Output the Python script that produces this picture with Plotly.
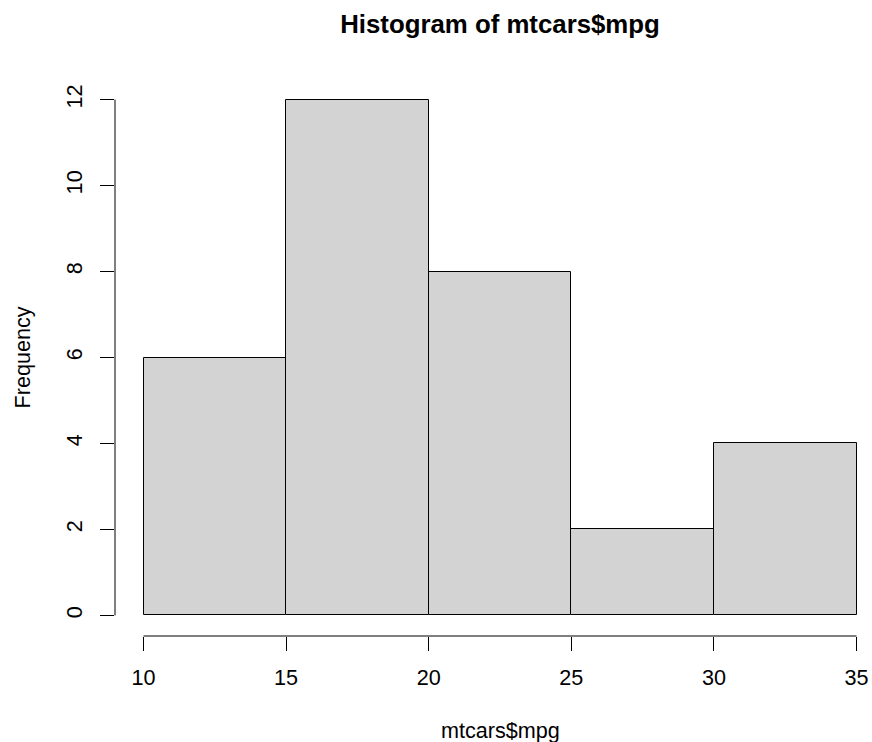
import plotly.graph_objects as go

# Data: histogram of mtcars$mpg (R default breaks)
breaks = [10, 15, 20, 25, 30, 35]
counts = [6, 12, 8, 2, 4]
x_ticks = [10, 15, 20, 25, 30, 35]
y_ticks = [0, 2, 4, 6, 8, 10, 12]
title_text = "Histogram of mtcars$mpg"
xlab = "mtcars$mpg"
ylab = "Frequency"

centers = [(a + b) / 2 for a, b in zip(breaks[:-1], breaks[1:])]
widths = [b - a for a, b in zip(breaks[:-1], breaks[1:])]

FONT = "Liberation Sans, Arial, Helvetica, sans-serif"
W, H = 872, 742
ML, MR, MT, MB = 115, 0, 79, 106

fig = go.Figure()
fig.add_trace(go.Bar(
    x=centers, y=counts, width=widths,
    marker=dict(color="#D3D3D3", line=dict(color="black", width=1)),
    hoverinfo="x+y", showlegend=False,
))

# R extends ranges by 4%
xr_lo = breaks[0] - 0.04 * (breaks[-1] - breaks[0])
px_per_unit = 28.52
xr_hi = xr_lo + (W - ML - MR) / px_per_unit
yr_lo = -0.04 * max(y_ticks)
yr_hi = max(y_ticks) * 1.04

axis_common = dict(
    showgrid=False, zeroline=False, showline=False,
    ticks="outside", ticklen=14, tickwidth=1, tickcolor="black",
    tickfont=dict(family=FONT, size=21.6, color="black"),
)

fig.update_layout(
    width=W, height=H,
    margin=dict(l=ML, r=MR, t=MT, b=MB, pad=0),
    plot_bgcolor="white", paper_bgcolor="white",
    bargap=0,
    xaxis=dict(range=[xr_lo, xr_hi], tickvals=x_ticks,
               ticktext=[str(v) for v in x_ticks], ticklabelstandoff=8,
               **axis_common),
    yaxis=dict(range=[yr_lo, yr_hi], tickvals=y_ticks,
               ticktext=[str(v) for v in y_ticks], tickangle=-90,
               ticklabelstandoff=9, **axis_common),
    title=dict(text="<b>" + title_text + "</b>",
               font=dict(family=FONT, size=25.8, color="black"),
               xref="container", x=500 / W, xanchor="center",
               yref="container", y=1 - 23.5 / H, yanchor="middle"),
    shapes=[
        dict(type="line", xref="x", yref="paper",
             x0=x_ticks[0], x1=x_ticks[-1], y0=0, y1=0,
             line=dict(color="black", width=1)),
        dict(type="line", xref="paper", yref="y",
             x0=0, x1=0, y0=y_ticks[0], y1=y_ticks[-1],
             line=dict(color="black", width=1)),
    ],
    annotations=[
        dict(text=xlab, xref="paper", yref="paper",
             x=(500 - ML) / (W - ML - MR), y=(H - MB - 730.5) / (H - MT - MB),
             xanchor="center", yanchor="middle", showarrow=False,
             font=dict(family=FONT, size=21.6, color="black")),
        dict(text=ylab, xref="paper", yref="paper",
             x=(22 - ML) / (W - ML - MR), y=0.5, textangle=-90,
             xanchor="center", yanchor="middle", showarrow=False,
             font=dict(family=FONT, size=21.6, color="black")),
    ],
)

fig.write_html(
    "out.html",
    config={"displayModeBar": False},
    post_script="document.body.style.margin='0';document.body.style.padding='0';"
                "document.body.style.overflow='hidden';",
)
